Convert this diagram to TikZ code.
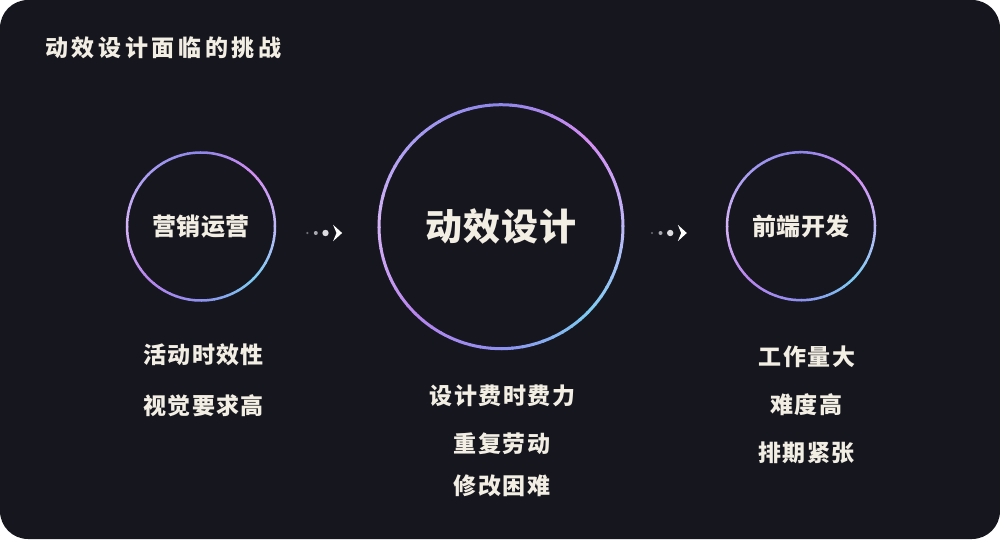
\documentclass[tikz,border=0pt]{standalone}
\usepackage{fontspec}
\setmainfont{Noto Sans CJK SC}
\definecolor{bgc}{HTML}{16161E}
\definecolor{txt}{HTML}{F2EEE4}
\definecolor{g0}{HTML}{BFB8F8}
\definecolor{g45}{HTML}{D48CF2}
\definecolor{g90}{HTML}{8C86EA}
\definecolor{g135}{HTML}{A89CF2}
\definecolor{g180}{HTML}{D6B4F6}
\definecolor{g225}{HTML}{B884EE}
\definecolor{g270}{HTML}{8E90F0}
\definecolor{g315}{HTML}{7CCCF2}
\definecolor{dotA}{HTML}{6E6E78}
\definecolor{dotB}{HTML}{A8A8B0}
\definecolor{dotC}{HTML}{DCDCE0}
\newcommand\gradring[3]{%
 \foreach \a/\ca/\cb in {0/g0/g45,45/g45/g90,90/g90/g135,135/g135/g180,180/g180/g225,225/g225/g270,270/g270/g315,315/g315/g0}{%
   \foreach \k in {0,...,8}{%
     \pgfmathtruncatemacro\pct{(\k+0.5)*100/9}%
     \pgfmathsetmacro\s{\a+\k*5}%
     \pgfmathsetmacro\e{\s+5.6}%
     \colorlet{segc}{\cb!\pct!\ca}%
     \draw[segc, line width=#3] ([shift={(\s:#2)}]#1.center) arc[start angle=\s, end angle=\e, radius=#2];
   }}}
\newcommand\flowdots[2]{% #1 x of small dot, #2 y
  \fill[dotA] (#1,#2) circle (1.2);
  \fill[dotB] (#1+8.5,#2) circle (2);
  \fill[dotC] (#1+18.2,#2) circle (3.2);
  \fill[white] (#1+25.8,#2+8.2) -- (#1+34.8,#2) -- (#1+25.8,#2-8.2) -- (#1+29.2,#2) -- cycle;
}
\tikzset{
  ttl/.style={text=txt, anchor=west, inner sep=0pt, font=\fontsize{23}{27}\selectfont\bfseries\addfontfeatures{LetterSpace=16}},
  ringlbl/.style={circle, inner sep=0pt, text=txt, font=\fontsize{24}{28}\selectfont\bfseries\addfontfeatures{LetterSpace=2}},
  biglbl/.style={circle, inner sep=0pt, text=txt, font=\fontsize{37}{42}\selectfont\bfseries\addfontfeatures{LetterSpace=2}},
  item/.style={text=txt, inner sep=0pt, font=\fontsize{23}{27}\selectfont\bfseries\addfontfeatures{LetterSpace=6.5}},
}
\begin{document}
\begin{tikzpicture}[x=1pt,y=1pt]
\useasboundingbox (0,0) rectangle (1000,539);
\fill[bgc, rounded corners=28pt] (0,0) rectangle (1000,539);
\node[ttl] (title) at (45,491) {动效设计面临的挑战};
% circles
\node[ringlbl, minimum size=148pt] (mk) at (201,312.5) {营销运营};
\node[biglbl, minimum size=244pt] (dz) at (501,312.3) {动效设计};
\node[ringlbl, minimum size=148pt] (fe) at (801,312.8) {前端开发};
\gradring{mk}{74}{2.5pt}
\gradring{dz}{122}{3pt}
\gradring{fe}{74}{2.5pt}
% flow markers
\flowdots{307.3}{306}
\flowdots{652}{306}
% items
\node[item] (l1) at (203.5,184) {活动时效性};
\node[item] (l2) at (203.5,133.5) {视觉要求高};
\node[item] (c1) at (502.5,143) {设计费时费力};
\node[item] (c2) at (502,95) {重复劳动};
\node[item] (c3) at (502,53) {修改困难};
\node[item] (r1) at (807,182.3) {工作量大};
\node[item] (r2) at (806,134) {难度高};
\node[item] (r3) at (806.5,86) {排期紧张};
\end{tikzpicture}
\end{document}
